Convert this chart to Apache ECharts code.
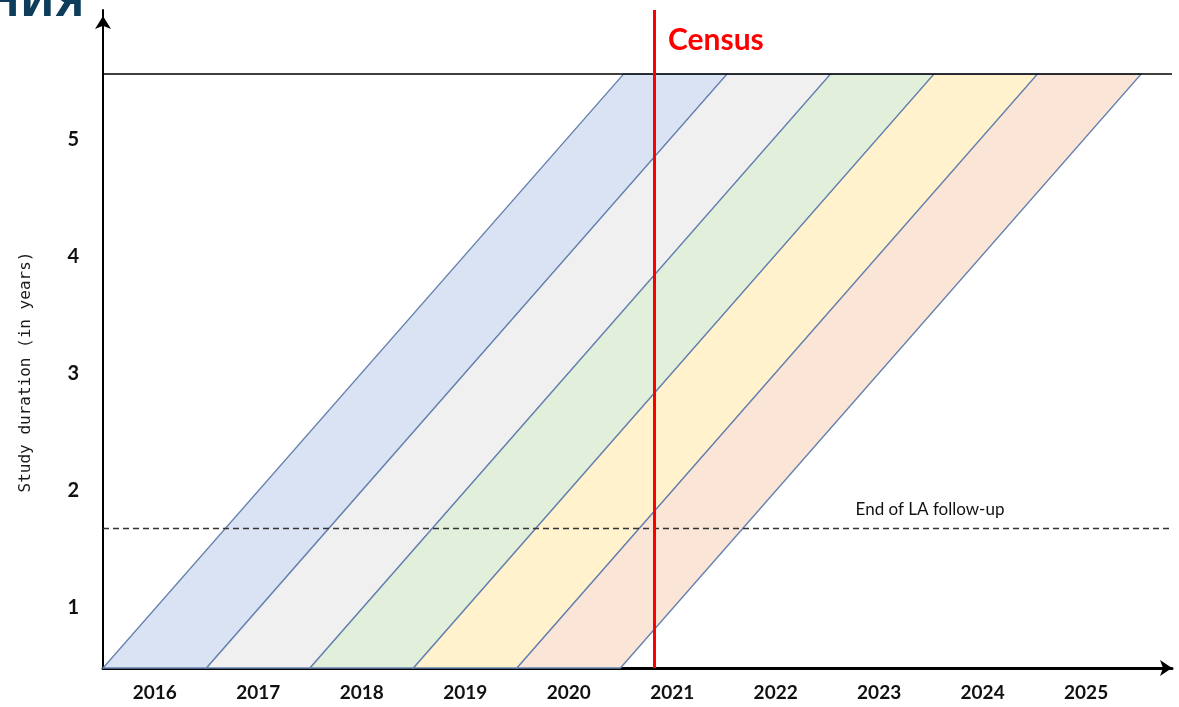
<!DOCTYPE html>
<html>
<head>
<meta charset="utf-8">
<script src="https://cdn.jsdelivr.net/npm/echarts@6/dist/echarts.min.js"></script>
<style>html,body{margin:0;padding:0;background:#fff;}#c{width:1179px;height:707px;}</style>
</head>
<body>
<div id="c"></div>
<script>
// ---- data ----
const cohortYears = [2016, 2017, 2018, 2019, 2020];
const xTickYears = [2016, 2017, 2018, 2019, 2020, 2021, 2022, 2023, 2024, 2025];
const yTickValues = [1, 2, 3, 4, 5];
const studyStart = 0.484;       // bottom of study duration axis
const studyEnd = 5.56;          // top line of study duration
const cohortShift = 5.03;       // horizontal shift (years) from start to end of follow-up
const censusYear = 2020.83;
const laFollowUpEnd = 1.68;
const bandColors = ['#dae3f3', '#f0f0f0', '#e2efda', '#fff2cc', '#fbe5d6'];

const FONT = 'Lato, "Open Sans", sans-serif';
const chart = echarts.init(document.getElementById('c'));

const option = {
  animation: false,
  backgroundColor: '#fff',
  grid: { left: 103, right: 7, top: 10, bottom: 39 },
  xAxis: {
    type: 'value',
    min: 2015.5,
    max: 2025.83,
    axisLine: { show: true, lineStyle: { color: '#000', width: 3 }, symbol: ['none', 'arrow'], symbolSize: [12, 12] },
    axisTick: { show: false },
    splitLine: { show: false },
    axisLabel: { customValues: xTickYears, fontFamily: FONT, fontWeight: 'bold', fontSize: 19, color: '#111', margin: 15, formatter: v => String(Math.round(v)) }
  },
  yAxis: {
    type: 'value',
    min: studyStart,
    max: 6.108,
    axisLine: { show: true, lineStyle: { color: '#000', width: 2 }, symbol: ['none', 'arrow'], symbolSize: [12, 13], symbolOffset: [0, -6] },
    axisTick: { show: false },
    splitLine: { show: false },
    axisLabel: { customValues: yTickValues, fontFamily: FONT, fontWeight: 'bold', fontSize: 20, color: '#111', margin: 24, formatter: v => String(Math.round(v)) }
  },
  graphic: [
    { type: 'text', left: -14, top: -19, z: 100, style: { text: 'НИЯ', font: 'bold 44px "Noto Sans", sans-serif', fill: '#0e3d5c' } },
    { type: 'text', x: 26, y: 372, rotation: Math.PI / 2, z: 100, style: { text: 'Study duration (in years)', font: '16px "DejaVu Sans Mono", monospace', fill: '#1a1a1a', align: 'center', verticalAlign: 'middle' } },
    { type: 'text', x: 668, y: 40, z: 100, style: { text: 'Census', font: 'bold 30px ' + FONT, fill: '#ff0000', align: 'left', verticalAlign: 'middle' } },
    { type: 'text', x: 930, y: 510, z: 100, style: { text: 'End of LA follow-up', font: '17px ' + FONT, fill: '#111', align: 'center', verticalAlign: 'middle' } }
  ],
  series: [
    {
      type: 'custom',
      z: 2,
      data: cohortYears.map((y, i) => [y, i]),
      renderItem: function (params, api) {
        const c = api.value(0);
        const i = api.value(1);
        const p1 = api.coord([c - 0.5, studyStart]);
        const p2 = api.coord([c + 0.5, studyStart]);
        const p3 = api.coord([c + 0.5 + cohortShift, studyEnd]);
        const p4 = api.coord([c - 0.5 + cohortShift, studyEnd]);
        return {
          type: 'polygon',
          shape: { points: [p1, p2, p3, p4] },
          style: { fill: bandColors[i], stroke: '#6682b0', lineWidth: 1.4 }
        };
      }
    },
    {
      type: 'line',
      data: [],
      z: 5,
      markLine: {
        silent: true,
        symbol: ['none', 'none'],
        label: { show: false },
        data: [
          { yAxis: studyEnd, lineStyle: { color: '#000', width: 1.5, type: 'solid' } },
          { yAxis: laFollowUpEnd, lineStyle: { color: '#333', width: 1.3, type: [6, 4] } },
          { xAxis: censusYear, lineStyle: { color: '#ff0000', width: 3, type: 'solid' } }
        ]
      }
    }
  ]
};
chart.setOption(option);
</script>
</body>
</html>
